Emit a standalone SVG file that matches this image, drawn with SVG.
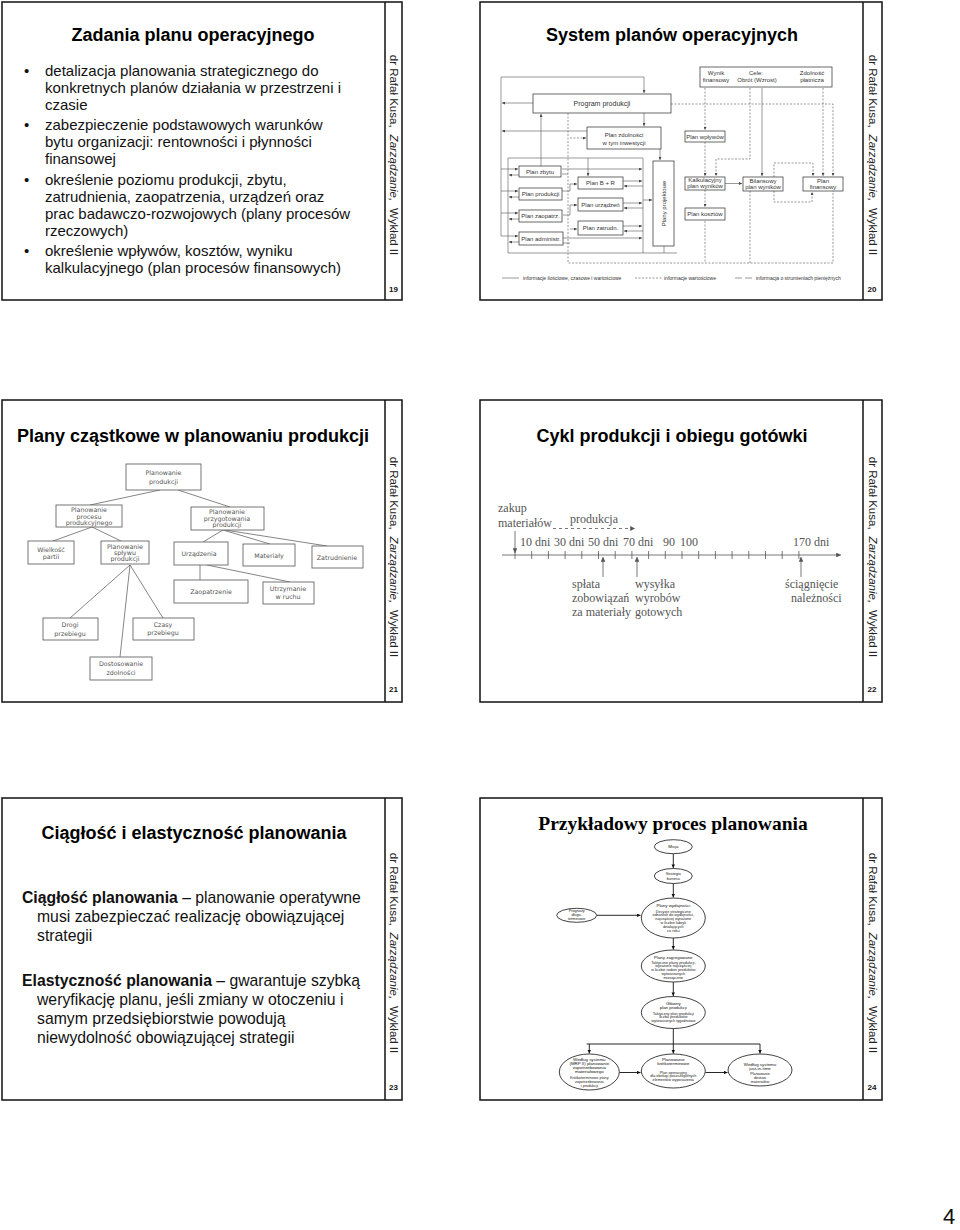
<svg xmlns="http://www.w3.org/2000/svg" width="960" height="1230" viewBox="0 0 960 1230">
<defs>
<style>
.frame{fill:none;stroke:#111;stroke-width:1.5}
.title{font-family:"Liberation Sans",Arial,sans-serif;font-weight:bold;font-size:18px;fill:#000;text-anchor:middle}
.body{font-family:"Liberation Sans",Arial,sans-serif;font-size:15px;fill:#111}
.body23{font-family:"Liberation Sans",Arial,sans-serif;font-size:15.75px;fill:#111}
.side{font-family:"Liberation Sans",Arial,sans-serif;font-size:11.5px;fill:#222;text-anchor:middle}
.num{font-family:"Liberation Sans",Arial,sans-serif;font-size:8px;font-weight:bold;fill:#111;text-anchor:middle}
.b20{fill:#fff;stroke:#444;stroke-width:0.8}
.l20{font-family:"Liberation Sans",Arial,sans-serif;font-size:6px;fill:#333;text-anchor:middle}
.lg20{font-family:"Liberation Sans",Arial,sans-serif;font-size:5px;fill:#333;text-anchor:start}
.c20{fill:none;stroke:#555;stroke-width:0.6}
.d20{fill:none;stroke:#555;stroke-width:0.6;stroke-dasharray:2 1.5}
.b21{fill:#fff;stroke:#666;stroke-width:0.9}
.l21{font-family:"DejaVu Sans",sans-serif;font-size:6.3px;fill:#555;text-anchor:middle}
.c21{fill:none;stroke:#666;stroke-width:0.8}
.l22{font-family:"Liberation Serif","Times New Roman",serif;font-size:12px;fill:#555}
.e24{fill:#fff;stroke:#111;stroke-width:0.8}
.l24{font-family:"Liberation Sans",Arial,sans-serif;font-size:3.8px;fill:#222;text-anchor:middle}
.h24{font-family:"Liberation Sans",Arial,sans-serif;font-size:4.4px;fill:#111;text-anchor:middle}
.c24{fill:none;stroke:#111;stroke-width:0.9}
</style>
<marker id="a20" viewBox="0 0 6 6" refX="6" refY="3" markerWidth="5" markerHeight="5" orient="auto"><path d="M0,0 L6,3 L0,6 z" fill="#444"/></marker>
<marker id="a22" viewBox="0 0 6 6" refX="6" refY="3" markerWidth="6" markerHeight="6" orient="auto"><path d="M0,0 L6,3 L0,6 z" fill="#555"/></marker>
<marker id="a24" viewBox="0 0 6 6" refX="6" refY="3" markerWidth="4" markerHeight="4" orient="auto"><path d="M0,0 L6,3 L0,6 z" fill="#111"/></marker>
</defs>
<rect width="960" height="1230" fill="#fff"/>

<!-- Slide 19 -->
<g id="slide19">
<rect class="frame" x="2" y="2" width="400" height="298"/>
<line class="frame" x1="385" y1="2" x2="385" y2="300"/>
<text class="title" x="193" y="41">Zadania planu operacyjnego</text>
<g class="body">
<text x="24" y="76">•</text><text x="45" y="76">detalizacja planowania strategicznego do</text>
<text x="45" y="93">konkretnych planów działania w przestrzeni i</text>
<text x="45" y="110">czasie</text>
<text x="24" y="130">•</text><text x="45" y="130">zabezpieczenie podstawowych warunków</text>
<text x="45" y="147">bytu organizacji: rentowności i płynności</text>
<text x="45" y="164">finansowej</text>
<text x="24" y="185">•</text><text x="45" y="185">określenie poziomu produkcji, zbytu,</text>
<text x="45" y="202">zatrudnienia, zaopatrzenia, urządzeń oraz</text>
<text x="45" y="219">prac badawczo-rozwojowych (plany procesów</text>
<text x="45" y="236">rzeczowych)</text>
<text x="24" y="256">•</text><text x="45" y="256">określenie wpływów, kosztów, wyniku</text>
<text x="45" y="273">kalkulacyjnego (plan procesów finansowych)</text>
</g>
<text class="side" transform="translate(389.5,155) rotate(90)">dr Rafał Kusa,<tspan dx="7" font-style="italic">Zarządzanie,</tspan><tspan dx="7">Wykład II</tspan></text>
<text class="num" x="393.5" y="292">19</text>
</g>

<!-- Slide 20 -->
<g id="slide20">
<rect class="frame" x="480" y="2" width="402" height="298"/>
<line class="frame" x1="863" y1="2" x2="863" y2="300"/>
<text class="title" x="672" y="41">System planów operacyjnych</text>
<text class="side" transform="translate(868.5,155) rotate(90)">dr Rafał Kusa,<tspan dx="7" font-style="italic">Zarządzanie,</tspan><tspan dx="7">Wykład II</tspan></text>
<text class="num" x="872" y="292">20</text>
</g>
<g id="s20-connectors">
<path class="c20" d="M501 77 H644 V93" marker-end="url(#a20)"/>
<path class="c20" d="M501 77 V236 H518" marker-end="url(#a20)"/>
<path class="c20" d="M533 103 H502" marker-end="url(#a20)"/>
<path class="c20" d="M587 131 H502" marker-end="url(#a20)"/>
<path class="c20" d="M644 113 V126" marker-end="url(#a20)"/>
<path class="c20" d="M660 149 V160" marker-end="url(#a20)"/>
<path class="c20" d="M541 166 V114" marker-end="url(#a20)"/>
<path class="c20" d="M508 158 H643 V253 H677"/>
<path class="c20" d="M508 158 V253 H643"/>
<path class="c20" d="M664 246 V253"/>
<path class="c20" d="M588 158 V176" marker-end="url(#a20)"/>
<path class="c20" d="M501 169 H518" marker-end="url(#a20)"/>
<path class="c20" d="M501 191 H518" marker-end="url(#a20)"/>
<path class="c20" d="M501 213 H518" marker-end="url(#a20)"/>
<path class="c20" d="M519 175 H509" marker-end="url(#a20)"/>
<path class="c20" d="M519 197 H509" marker-end="url(#a20)"/>
<path class="c20" d="M519 219 H509" marker-end="url(#a20)"/>
<path class="c20" d="M519 242 H509" marker-end="url(#a20)"/>
<path class="c20" d="M562 169 H642" marker-end="url(#a20)"/>
<path class="c20" d="M562 174 H568"/>
<path class="c20" d="M562 191 H570 V184 H577" marker-end="url(#a20)"/>
<path class="c20" d="M563 215 H570 V205 H577" marker-end="url(#a20)"/>
<path class="c20" d="M570 229 H577" marker-end="url(#a20)"/>
<path class="c20" d="M563 238 H642" marker-end="url(#a20)"/>
<path class="c20" d="M563 243 H570"/>
<path class="c20" d="M623 181 H642" marker-end="url(#a20)"/>
<path class="c20" d="M643 186 H624" marker-end="url(#a20)"/>
<path class="c20" d="M623 203 H642" marker-end="url(#a20)"/>
<path class="c20" d="M643 208 H624" marker-end="url(#a20)"/>
<path class="c20" d="M623 226 H642" marker-end="url(#a20)"/>
<path class="c20" d="M643 231 H624" marker-end="url(#a20)"/>
<path class="c20" d="M643 200 H652" marker-end="url(#a20)"/>
<path class="c20" d="M762 88 V176" marker-end="url(#a20)"/>
<path class="c20" d="M725 183.5 H742" marker-end="url(#a20)"/>
<path class="d20" d="M568 113 V263 H833 V191"/>
<path class="d20" d="M671 104 H833 V176" marker-end="url(#a20)"/>
<path class="d20" d="M570 138 H586" marker-end="url(#a20)"/>
<path class="d20" d="M705 88 V130" marker-end="url(#a20)"/>
<path class="d20" d="M705 142 V176" marker-end="url(#a20)"/>
<path class="d20" d="M750 88 V159 H716 V176" marker-end="url(#a20)"/>
<path class="d20" d="M823 88 V176" marker-end="url(#a20)"/>
<path class="d20" d="M774 177 V163 H813 V176" marker-end="url(#a20)"/>
<path class="d20" d="M774 191 V202 H812 V192" marker-end="url(#a20)"/>
<path class="d20" d="M705 190 V207" marker-end="url(#a20)"/>
<path class="d20" d="M705 221 V263"/>
<path class="d20" d="M750 191 V263"/>
<line class="c20" x1="502" y1="278" x2="519" y2="278"/>
<line class="d20" x1="635" y1="278" x2="662" y2="278"/>
<line class="c20" x1="735" y1="278" x2="742" y2="278"/>
<line class="c20" x1="745" y1="278" x2="752" y2="278"/>
</g>
<g id="s20-nodes">
<g id="n20-program"><rect class="b20" x="533" y="94" width="138" height="19"/><text class="l20" x="602" y="106" style="font-size:7px">Program produkcji</text></g>
<g id="n20-zdolnosci"><rect class="b20" x="587" y="127" width="74" height="22"/><text class="l20" x="624" y="136.5">Plan zdolności</text><text class="l20" x="624" y="144.5">w tym inwestycji</text></g>
<g id="n20-zbytu"><rect class="b20" x="519" y="166" width="42" height="11"/><text class="l20" x="540" y="173.8">Plan zbytu</text></g>
<g id="n20-produkcji"><rect class="b20" x="519" y="188" width="43" height="12"/><text class="l20" x="540.5" y="196.3">Plan produkcji</text></g>
<g id="n20-zaopatrz"><rect class="b20" x="519" y="210" width="43" height="12"/><text class="l20" x="540.5" y="218.3">Plan zaopatrz.</text></g>
<g id="n20-administr"><rect class="b20" x="519" y="232" width="44" height="13"/><text class="l20" x="541" y="240.8">Plan administr.</text></g>
<g id="n20-br"><rect class="b20" x="578" y="177" width="45" height="12"/><text class="l20" x="600.5" y="185.3">Plan B + R</text></g>
<g id="n20-urzadzen"><rect class="b20" x="578" y="198" width="45" height="13"/><text class="l20" x="600.5" y="206.8">Plan urządzeń</text></g>
<g id="n20-zatrudn"><rect class="b20" x="578" y="221" width="45" height="14"/><text class="l20" x="600.5" y="230.3">Plan zatrudn.</text></g>
<g id="n20-projektowe"><rect class="b20" x="653" y="161" width="21" height="85"/><text class="l20" transform="translate(666,203.5) rotate(-90)">Plany projektowe</text></g>
<g id="n20-cele"><rect class="b20" x="700" y="67" width="132" height="20"/>
<text class="l20" x="716" y="75">Wynik</text><text class="l20" x="716" y="82">finansowy</text>
<text class="l20" x="756" y="75">Cele:</text><text class="l20" x="757" y="82">Obrót (Wzrost)</text>
<text class="l20" x="812" y="75">Zdolność</text><text class="l20" x="812" y="82">płatnicza</text></g>
<g id="n20-wplywow"><rect class="b20" x="685" y="131" width="40" height="11"/><text class="l20" x="705" y="138.8">Plan wpływów</text></g>
<g id="n20-kalk"><rect class="b20" x="685" y="177" width="40" height="13"/><text class="l20" x="705" y="182.3">Kalkulacyjny</text><text class="l20" x="705" y="188.3">plan wyników</text></g>
<g id="n20-bilans"><rect class="b20" x="743" y="177" width="40" height="14"/><text class="l20" x="763" y="182.8">Bilansowy</text><text class="l20" x="763" y="188.8">plan wyników</text></g>
<g id="n20-fin"><rect class="b20" x="803" y="177" width="40" height="14"/><text class="l20" x="823" y="182.8">Plan</text><text class="l20" x="823" y="188.8">finansowy</text></g>
<g id="n20-kosztow"><rect class="b20" x="685" y="208" width="40" height="12"/><text class="l20" x="705" y="216.3">Plan kosztów</text></g>
<g id="n20-legend">
<text class="lg20" x="523" y="280">informacje ilościowe, czasowe i wartościowe</text>
<text class="lg20" x="664" y="280">informacje wartościowe</text>
<text class="lg20" x="756" y="280">informacja o strumieniach pieniężnych</text>
</g>
</g>

<!-- Slide 21 -->
<g id="slide21">
<rect class="frame" x="2" y="400" width="400" height="302"/>
<line class="frame" x1="385" y1="400" x2="385" y2="702"/>
<text class="title" x="193" y="442">Plany cząstkowe w planowaniu produkcji</text>
<text class="side" transform="translate(389.5,557) rotate(90)">dr Rafał Kusa,<tspan dx="7" font-style="italic">Zarządzanie,</tspan><tspan dx="7">Wykład II</tspan></text>
<text class="num" x="393.5" y="692">21</text>
</g>
<g id="s21-connectors">
<path class="c21" d="M160 490 L90 505"/>
<path class="c21" d="M178 490 L230 507"/>
<path class="c21" d="M92 527 L53 541"/>
<path class="c21" d="M92 527 L121 541"/>
<path class="c21" d="M223 530 L203 542"/>
<path class="c21" d="M223 530 L270 544"/>
<path class="c21" d="M225 530 L327 546"/>
<path class="c21" d="M200 565 L200 580"/>
<path class="c21" d="M207 565 L290 582"/>
<path class="c21" d="M130 565 L70 618"/>
<path class="c21" d="M130 565 L163 618"/>
<path class="c21" d="M130 565 L120 657"/>
</g>
<g id="s21-nodes">
<g id="n21-1"><rect class="b21" x="126" y="464" width="75" height="26"/><text class="l21" x="163.5" y="475">Planowanie</text><text class="l21" x="163.5" y="484">produkcji</text></g>
<g id="n21-2"><rect class="b21" x="56" y="505" width="66" height="22"/><text class="l21" x="89" y="512">Planowanie</text><text class="l21" x="89" y="518.5">procesu</text><text class="l21" x="89" y="525">produkcyjnego</text></g>
<g id="n21-3"><rect class="b21" x="191" y="507" width="73" height="23"/><text class="l21" x="227" y="514">Planowanie</text><text class="l21" x="227" y="520.5">przygotowania</text><text class="l21" x="227" y="527">produkcji</text></g>
<g id="n21-4"><rect class="b21" x="28" y="541" width="46" height="23"/><text class="l21" x="51" y="551.5">Wielkość</text><text class="l21" x="51" y="558.5">partii</text></g>
<g id="n21-5"><rect class="b21" x="101" y="541" width="48" height="23"/><text class="l21" x="125" y="548.5">Planowanie</text><text class="l21" x="125" y="554.5">spływu</text><text class="l21" x="125" y="561">produkcji</text></g>
<g id="n21-6"><rect class="b21" x="174" y="542" width="54" height="23"/><text class="l21" x="199" y="556">Urządzenia</text></g>
<g id="n21-7"><rect class="b21" x="243" y="544" width="52" height="22"/><text class="l21" x="269" y="557.5">Materiały</text></g>
<g id="n21-8"><rect class="b21" x="312" y="546" width="51" height="22"/><text class="l21" x="337" y="559.5">Zatrudnienie</text></g>
<g id="n21-9"><rect class="b21" x="174" y="580" width="74" height="23"/><text class="l21" x="211" y="593.5">Zaopatrzenie</text></g>
<g id="n21-10"><rect class="b21" x="263" y="582" width="51" height="22"/><text class="l21" x="288" y="591">Utrzymanie</text><text class="l21" x="288" y="598.5">w ruchu</text></g>
<g id="n21-11"><rect class="b21" x="43" y="618" width="55" height="22"/><text class="l21" x="70" y="627">Drogi</text><text class="l21" x="70" y="635.5">przebiegu</text></g>
<g id="n21-12"><rect class="b21" x="133" y="618" width="61" height="22"/><text class="l21" x="163" y="626.5">Czasy</text><text class="l21" x="163" y="635">przebiegu</text></g>
<g id="n21-13"><rect class="b21" x="90" y="657" width="62" height="23"/><text class="l21" x="121" y="666">Dostosowanie</text><text class="l21" x="121" y="674.5">zdolności</text></g>
</g>

<!-- Slide 22 -->
<g id="slide22">
<rect class="frame" x="480" y="400" width="402" height="302"/>
<line class="frame" x1="863" y1="400" x2="863" y2="702"/>
<text class="title" x="672" y="442">Cykl produkcji i obiegu gotówki</text>
<text class="side" transform="translate(868.5,557) rotate(90)">dr Rafał Kusa,<tspan dx="7" font-style="italic">Zarządzanie,</tspan><tspan dx="7">Wykład II</tspan></text>
<text class="num" x="872" y="692">22</text>
<g id="s22-axis" fill="none" stroke="#555" stroke-width="0.8">
<line x1="502" y1="555" x2="841" y2="555" marker-end="url(#a22)"/>
<path d="M515 551v8M531.7 551v8M548.4 551v8M565.1 551v8M581.8 551v8M598.5 551v8M615.2 551v8M631.9 551v8M648.6 551v8M665.3 551v8M682 551v8M698.7 551v8M715.4 551v8M732.1 551v8M748.8 551v8M765.5 551v8M782.2 551v8M798.9 551v8"/>
<line x1="515" y1="531" x2="515" y2="553" marker-end="url(#a22)"/>
<line x1="553" y1="528.5" x2="635" y2="528.5" stroke-dasharray="3 3" marker-end="url(#a22)"/>
<line x1="603" y1="577" x2="603" y2="557" marker-end="url(#a22)"/>
<line x1="637" y1="577" x2="637" y2="557" marker-end="url(#a22)"/>
<line x1="801" y1="577" x2="801" y2="557" marker-end="url(#a22)"/>
</g>
<g class="l22">
<text x="498" y="512">zakup</text>
<text x="498" y="527">materiałów</text>
<text x="570" y="523">produkcja</text>
<text x="520" y="546">10 dni</text>
<text x="554" y="546">30 dni</text>
<text x="588" y="546">50 dni</text>
<text x="623" y="546">70 dni</text>
<text x="663" y="546">90</text>
<text x="680" y="546">100</text>
<text x="793" y="546">170 dni</text>
<text x="572" y="588">spłata</text>
<text x="572" y="602">zobowiązań</text>
<text x="572" y="616">za materiały</text>
<text x="635" y="588">wysyłka</text>
<text x="635" y="602">wyrobów</text>
<text x="635" y="616">gotowych</text>
<text x="785" y="588">ściągnięcie</text>
<text x="791" y="602">należności</text>
</g>
</g>

<!-- Slide 23 -->
<g id="slide23">
<rect class="frame" x="2" y="798" width="400" height="302"/>
<line class="frame" x1="385" y1="798" x2="385" y2="1100"/>
<text class="title" x="194" y="839">Ciągłość i elastyczność planowania</text>
<g class="body23">
<text x="22" y="903"><tspan font-weight="bold">Ciągłość planowania</tspan> – planowanie operatywne</text>
<text x="37" y="922">musi zabezpieczać realizację obowiązującej</text>
<text x="37" y="941">strategii</text>
<text x="22" y="986"><tspan font-weight="bold">Elastyczność planowania</tspan> – gwarantuje szybką</text>
<text x="37" y="1005">weryfikację planu, jeśli zmiany w otoczeniu i</text>
<text x="37" y="1024">samym przedsiębiorstwie powodują</text>
<text x="37" y="1043">niewydolność obowiązującej strategii</text>
</g>
<text class="side" transform="translate(389.5,953) rotate(90)">dr Rafał Kusa,<tspan dx="7" font-style="italic">Zarządzanie,</tspan><tspan dx="7">Wykład II</tspan></text>
<text class="num" x="393.5" y="1090">23</text>
</g>

<!-- Slide 24 -->
<g id="slide24">
<rect class="frame" x="480" y="798" width="402" height="302"/>
<line class="frame" x1="863" y1="798" x2="863" y2="1100"/>
<text x="673" y="830" font-family="'Liberation Serif','Times New Roman',serif" font-weight="bold" font-size="19.5px" text-anchor="middle" fill="#000">Przykładowy proces planowania</text>
<text class="side" transform="translate(868.5,953) rotate(90)">dr Rafał Kusa,<tspan dx="7" font-style="italic">Zarządzanie,</tspan><tspan dx="7">Wykład II</tspan></text>
<text class="num" x="872" y="1090">24</text>
</g>
<g id="s24-connectors">
<line class="c24" x1="673.3" y1="854" x2="673.3" y2="868" marker-end="url(#a24)"/>
<line class="c24" x1="673.3" y1="883.5" x2="673.3" y2="897.5" marker-end="url(#a24)"/>
<line class="c24" x1="597" y1="915.3" x2="640.5" y2="915.3" marker-end="url(#a24)"/>
<line class="c24" x1="673.3" y1="938" x2="673.3" y2="949.5" marker-end="url(#a24)"/>
<line class="c24" x1="673.3" y1="982" x2="673.3" y2="996" marker-end="url(#a24)"/>
<path class="c24" d="M673.3 1028.5 V1044 M586.7 1044 H760"/>
<line class="c24" x1="589.3" y1="1044" x2="589.3" y2="1053.5" marker-end="url(#a24)"/>
<line class="c24" x1="673.3" y1="1044" x2="673.3" y2="1053.5" marker-end="url(#a24)"/>
<line class="c24" x1="760" y1="1044" x2="760" y2="1053.5" marker-end="url(#a24)"/>
<line class="c24" x1="619.5" y1="1072.5" x2="640.5" y2="1072.5" marker-end="url(#a24)"/>
<line class="c24" x1="705.5" y1="1072.5" x2="727.5" y2="1072.5" marker-end="url(#a24)"/>
</g>
<g id="s24-nodes">
<g id="n24-misja"><ellipse class="e24" cx="673.3" cy="846.7" rx="19" ry="7"/><text class="h24" x="673.3" y="848.3">Misja</text></g>
<g id="n24-strategia"><ellipse class="e24" cx="673.3" cy="876" rx="19" ry="7.5"/><text class="l24" x="673.3" y="875.3">Strategia</text><text class="l24" x="673.3" y="879.5">biznesu</text></g>
<g id="n24-prognozy"><ellipse class="e24" cx="576.7" cy="915.3" rx="20" ry="7"/><text class="l24" x="576.7" y="912.3">Prognozy</text><text class="l24" x="576.7" y="916">długo-</text><text class="l24" x="576.7" y="919.7">terminowe</text></g>
<g id="n24-wydajnosci"><ellipse class="e24" cx="673.3" cy="918" rx="32" ry="20"/>
<text class="h24" x="673.3" y="907">Plany wydajności</text>
<text class="l24" x="673.3" y="912.5">Decyzje strategiczne</text>
<text class="l24" x="673.3" y="916.3">odnośnie do wydajności,</text>
<text class="l24" x="673.3" y="920.1">najczęściej wyrażone</text>
<text class="l24" x="673.3" y="923.9">w liczbie fabryk</text>
<text class="l24" x="673.3" y="927.7">działających</text>
<text class="l24" x="673.3" y="931.5">co roku</text></g>
<g id="n24-zagregowane"><ellipse class="e24" cx="673.3" cy="966" rx="32" ry="16"/>
<text class="h24" x="673.3" y="958.5">Plany zagregowane</text>
<text class="l24" x="673.3" y="963.5">Taktyczne plany produkcji,</text>
<text class="l24" x="673.3" y="967.3">wyrażone najczęściej</text>
<text class="l24" x="673.3" y="971.1">w liczbie rodzin produktów</text>
<text class="l24" x="673.3" y="974.9">wytwarzanych</text>
<text class="l24" x="673.3" y="978.7">miesięcznie</text></g>
<g id="n24-glowny"><ellipse class="e24" cx="673.3" cy="1012.5" rx="32" ry="16"/>
<text class="h24" x="673.3" y="1004.5">Główny</text>
<text class="h24" x="673.3" y="1008.7">plan produkcji</text>
<text class="l24" x="673.3" y="1014.5">Taktyczny plan produkcji</text>
<text class="l24" x="673.3" y="1018.3">liczba produktów</text>
<text class="l24" x="673.3" y="1022.1">wytwarzanych tygodniowo</text></g>
<g id="n24-mrp"><ellipse class="e24" cx="589.3" cy="1072" rx="30" ry="18"/>
<text class="h24" x="589.3" y="1060.5">Według systemu</text>
<text class="h24" x="589.3" y="1064.6">(MRP II) planowanie</text>
<text class="h24" x="589.3" y="1068.7">zapotrzebowania</text>
<text class="h24" x="589.3" y="1072.8">materiałowego</text>
<text class="l24" x="589.3" y="1079">Krótkoterminowe plany</text>
<text class="l24" x="589.3" y="1082.8">zapotrzebowania</text>
<text class="l24" x="589.3" y="1086.6">i produkcji</text></g>
<g id="n24-krotko"><ellipse class="e24" cx="673.3" cy="1071" rx="32" ry="17"/>
<text class="h24" x="673.3" y="1060.5">Planowanie</text>
<text class="h24" x="673.3" y="1064.6">krótkoterminowe</text>
<text class="l24" x="673.3" y="1073.5">Plan operacyjny</text>
<text class="l24" x="673.3" y="1077.3">dla obsługi poszczególnych</text>
<text class="l24" x="673.3" y="1081.1">elementów wyposażenia</text></g>
<g id="n24-jit"><ellipse class="e24" cx="760" cy="1070" rx="32" ry="16"/>
<text class="h24" x="760" y="1065.5">Według systemu</text>
<text class="h24" x="760" y="1069.5">just-in-time</text>
<text class="l24" x="760" y="1075">Planowanie</text>
<text class="l24" x="760" y="1078.8">dostaw</text>
<text class="l24" x="760" y="1082.6">materiałów</text></g>
</g>

<text x="943" y="1224" font-family="'Liberation Sans',Arial,sans-serif" font-size="22px" fill="#111">4</text>
</svg>
